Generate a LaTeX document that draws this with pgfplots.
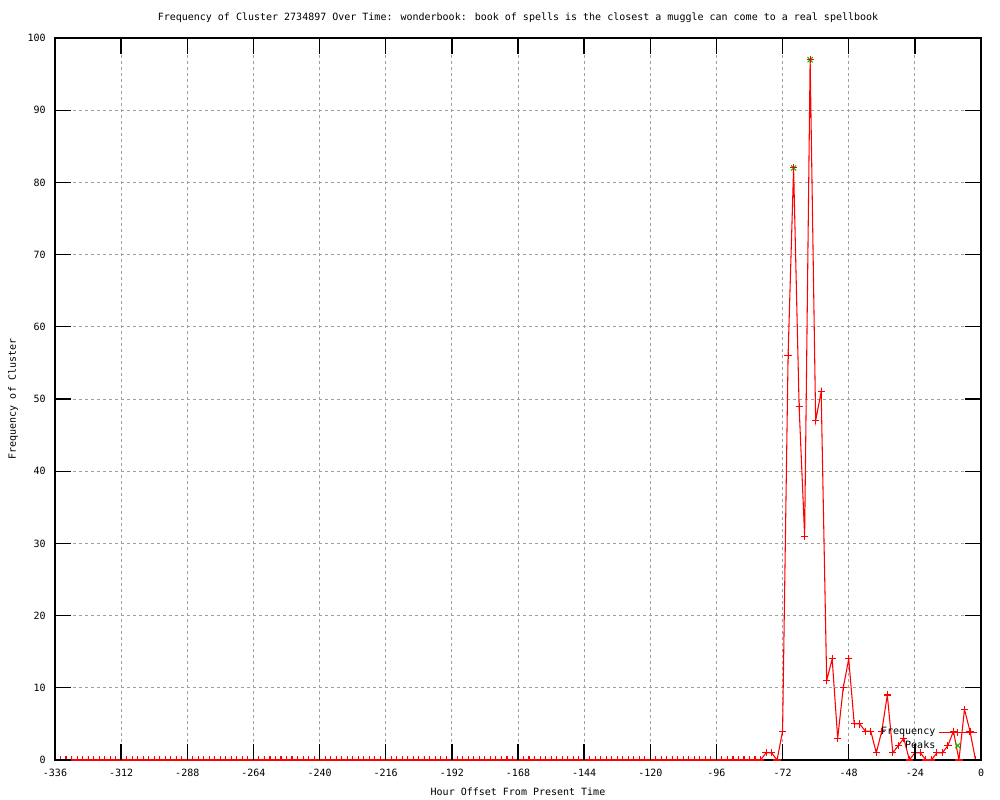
\documentclass[border=0pt]{standalone}
\usepackage{fontspec}
\setmainfont{DejaVu Sans Mono}
\usepackage{pgfplots}
\pgfplotsset{compat=1.18}
\usepackage{pgfplotstable}
\definecolor{gpred}{RGB}{255,0,0}
\definecolor{gpgreen}{RGB}{0,192,0}
\definecolor{gpgrid}{RGB}{160,160,160}

\pgfplotstableread{
h f
-336 0
-334 0
-332 0
-330 0
-328 0
-326 0
-324 0
-322 0
-320 0
-318 0
-316 0
-314 0
-312 0
-310 0
-308 0
-306 0
-304 0
-302 0
-300 0
-298 0
-296 0
-294 0
-292 0
-290 0
-288 0
-286 0
-284 0
-282 0
-280 0
-278 0
-276 0
-274 0
-272 0
-270 0
-268 0
-266 0
-264 0
-262 0
-260 0
-258 0
-256 0
-254 0
-252 0
-250 0
-248 0
-246 0
-244 0
-242 0
-240 0
-238 0
-236 0
-234 0
-232 0
-230 0
-228 0
-226 0
-224 0
-222 0
-220 0
-218 0
-216 0
-214 0
-212 0
-210 0
-208 0
-206 0
-204 0
-202 0
-200 0
-198 0
-196 0
-194 0
-192 0
-190 0
-188 0
-186 0
-184 0
-182 0
-180 0
-178 0
-176 0
-174 0
-172 0
-170 0
-168 0
-166 0
-164 0
-162 0
-160 0
-158 0
-156 0
-154 0
-152 0
-150 0
-148 0
-146 0
-144 0
-142 0
-140 0
-138 0
-136 0
-134 0
-132 0
-130 0
-128 0
-126 0
-124 0
-122 0
-120 0
-118 0
-116 0
-114 0
-112 0
-110 0
-108 0
-106 0
-104 0
-102 0
-100 0
-98 0
-96 0
-94 0
-92 0
-90 0
-88 0
-86 0
-84 0
-82 0
-80 0
-78 1
-76 1
-74 0
-72 4
-70 56
-68 82
-66 49
-64 31
-62 97
-60 47
-58 51
-56 11
-54 14
-52 3
-50 10
-48 14
-46 5
-44 5
-42 4
-40 4
-38 1
-36 4
-34 9
-32 1
-30 2
-28 3
-26 0
-24 1
-22 1
-20 0
-18 0
-16 1
-14 1
-12 2
-10 4
-8 0
-6 7
-4 4
-2 0
}\freqdata

\pgfplotsset{
  gpbase/.style={
    at={(0,0)}, anchor=south west,
    scale only axis, width=694.5pt, height=541.5pt,
    xmin=-336, xmax=0, ymin=0, ymax=100,
    xtick={-336,-312,-288,-264,-240,-216,-192,-168,-144,-120,-96,-72,-48,-24,0},
    ytick={0,10,20,30,40,50,60,70,80,90,100},
    minor tick num=0,
    font=\fontsize{7.5}{9}\selectfont,
  }
}

\begin{document}
\begin{tikzpicture}
% grid layer
\begin{axis}[gpbase,
  xticklabels={}, yticklabels={},
  major tick length=0pt,
  tick style={draw=none},
  axis line style={draw=none},
  grid=major,
  major grid style={gpgrid, line width=0.6pt, dash pattern=on 2pt off 2.5pt},
]
\end{axis}
% data, ticks, labels
\begin{axis}[gpbase,
  xticklabels={-336,-312,-288,-264,-240,-216,-192,-168,-144,-120,-96,-72,-48,-24,0},
  yticklabels={0,10,20,30,40,50,60,70,80,90,100},
  grid=none,
  tick pos=both, tick align=inside,
  major tick length=0pt,
  axis line style={black, line width=1pt},
  xticklabel style={anchor=center, yshift=-9.75pt, inner sep=0pt},
  yticklabel style={anchor=east, xshift=-6.75pt, inner sep=0pt},
  title={Frequency of Cluster 2734897 Over Time: wonderbook: book of spells is the closest a muggle can come to a real spellbook},
  every axis title/.style={at={(0.5,1)}, anchor=center, yshift=15pt},
  xlabel={Hour Offset From Present Time},
  every axis x label/.style={at={(0.5,0)}, anchor=center, yshift=-24pt},
  ylabel={Frequency of Cluster},
  every axis y label/.style={at={(0,0.5)}, xshift=-31.5pt, rotate=90, anchor=center},
  extra description/.code={
    \foreach \i in {0,...,14} {
      \draw[black, line width=1pt] (axis description cs:\i/14,0) -- ++(0pt,12pt);
      \draw[black, line width=1pt] (axis description cs:\i/14,1) -- ++(0pt,-12pt);
    }
    \foreach \j in {0,...,10} {
      \draw[black, line width=1pt] (axis description cs:0,\j/10) -- ++(12pt,0pt);
      \draw[black, line width=1pt] (axis description cs:1,\j/10) -- ++(-12pt,0pt);
    }
  },
  clip marker paths=true,
  legend plot pos=right,
  legend cell align=right,
  legend style={draw=none, fill=none, at={(0.996,0.048)}, anchor=north east,
    inner sep=0pt, row sep=0pt, column sep=1pt,
    nodes={inner sep=1.5pt, text height=5.5pt, text depth=1.5pt}},
  legend image code/.code={\draw[mark repeat=2, mark phase=2, #1] plot coordinates {(0pt,0pt)(14pt,0pt)(28pt,0pt)};},
]
\addplot[gpred, line width=0.8pt, mark=+, mark size=2.7pt, mark options={solid, line width=0.8pt}] table[x=h, y=f] {\freqdata};
\addlegendentry{Frequency}
\addplot[gpgreen, only marks, mark=x, mark size=2.7pt, mark options={line width=0.8pt}] coordinates {(-68,82) (-62,97)};
\addlegendentry{Peaks}
\addplot[gpred, only marks, mark=+, mark size=2.7pt, mark options={line width=0.8pt}, forget plot] coordinates {(-68,82) (-62,97)};
\end{axis}
\pgfresetboundingbox
\path[use as bounding box] (-41.25pt,-30pt) rectangle (708.75pt,570pt);
\end{tikzpicture}
\end{document}
